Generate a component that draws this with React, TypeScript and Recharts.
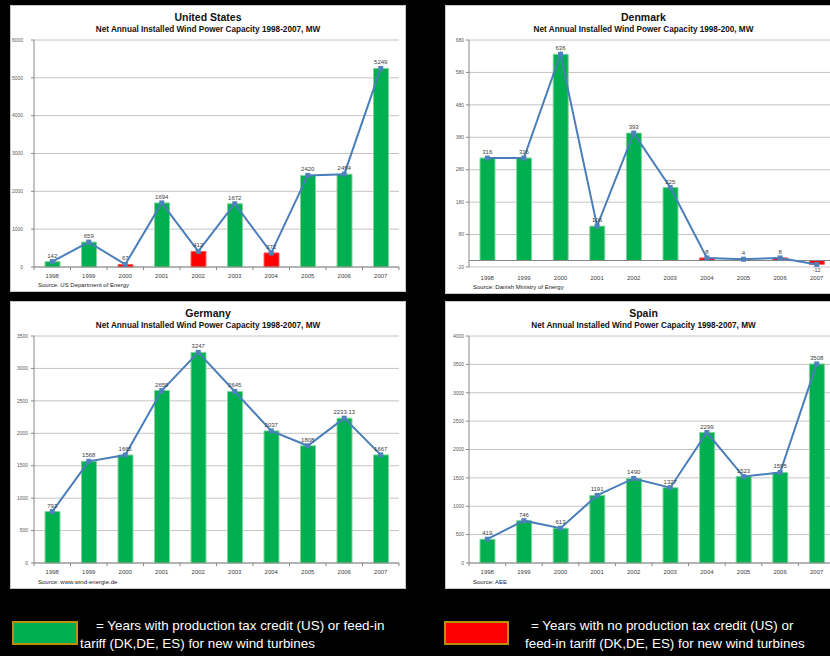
import {
  ComposedChart,
  Bar,
  Line,
  XAxis,
  YAxis,
  CartesianGrid,
  Cell,
  LabelList,
  ReferenceLine,
} from 'recharts'

// years on the category axis
const years = ['1998', '1999', '2000', '2001', '2002', '2003', '2004', '2005', '2006', '2007']

// United States
const usValues = [142, 659, 67, 1694, 412, 1672, 372, 2420, 2454, 5249]
const usCredit = [true, true, false, true, false, true, false, true, true, true]
const usTicks = [0, 1000, 2000, 3000, 4000, 5000, 6000]

// Denmark
const dkValues = [316, 316, 636, 106, 393, 225, 8, 4, 8, -12]
const dkCredit = [true, true, true, true, true, true, false, false, false, false]
const dkTicks = [-20, 80, 180, 280, 380, 480, 580, 680]

// Germany
const deValues = [793, 1568, 1665, 2659, 3247, 2645, 2037, 1808, 2233.13, 1667]
const deCredit = [true, true, true, true, true, true, true, true, true, true]
const deTicks = [0, 500, 1000, 1500, 2000, 2500, 3000, 3500]

// Spain
const esValues = [419, 746, 613, 1191, 1490, 1327, 2299, 1523, 1595, 3508]
const esCredit = [true, true, true, true, true, true, true, true, true, true]
const esTicks = [0, 500, 1000, 1500, 2000, 2500, 3000, 3500, 4000]

const GREEN = '#00B050'
const RED = '#FF0000'
const LINE = '#4A7EBB'
const FONT = '"Liberation Sans Narrow", "Arial Narrow", "Liberation Sans", sans-serif'

interface PanelProps {
  left: number
  top: number
  width: number
  height: number
  title: string
  subtitle: string
  source: string
  values: number[]
  credit: boolean[]
  ticks: number[]
  yGap: number
  zeroLine?: boolean
}

function Panel({ left, top, width, height, title, subtitle, source, values, credit, ticks, yGap, zeroLine }: PanelProps) {
  const data = years.map((year, i) => ({ year, value: values[i], credit: credit[i] }))
  const plotLeft = 23
  const plotRight = width - 8
  const plotTop = 34
  const plotBottom = 261
  const band = (plotRight - plotLeft) / years.length

  const renderTick = (props: any) => {
    const { x, y, payload, index } = props
    return (
      <g>
        {!zeroLine && <line x1={x - band / 2} x2={x - band / 2} y1={y} y2={y + 3} stroke="#888" />}
        {!zeroLine && index === years.length - 1 && (
          <line x1={x + band / 2} x2={x + band / 2} y1={y} y2={y + 3} stroke="#888" />
        )}
        <text x={x} y={y + (zeroLine ? 13 : 11)} textAnchor="middle" fontSize={6} fill="#404040" fontFamily={FONT}>
          {payload.value}
        </text>
      </g>
    )
  }

  const renderDot = (props: any) => (
    <rect key={`dot-${props.index}`} x={props.cx - 2.5} y={props.cy - 2.5} width={5} height={5} fill="#4F81BD" />
  )

  const renderLabel = (props: any) => {
    const { x, y, value } = props
    return (
      <text x={x} y={value < 0 ? y + 8 : y - 4} textAnchor="middle" fontSize={value < 0 ? 5.5 : 6} fill="#404040" fontFamily={FONT}>
        {value}
      </text>
    )
  }

  return (
    <div
      style={{
        position: 'absolute',
        left,
        top,
        width,
        height,
        background: '#fff',
        border: '1px solid #c8c8c8',
        boxSizing: 'border-box',
        fontFamily: FONT,
      }}
    >
      <div style={{ position: 'absolute', top: 5, width: '100%', textAlign: 'center', fontWeight: 700, fontSize: 10.5, color: '#111' }}>
        {title}
      </div>
      <div style={{ position: 'absolute', top: 19, width: '100%', textAlign: 'center', fontWeight: 700, fontSize: 8.2, color: '#111' }}>
        {subtitle}
      </div>
      <div style={{ position: 'absolute', left: 27, top: height - 11, fontSize: 6, color: '#222' }}>{source}</div>
      <div style={{ position: 'absolute', left: 0, top: 0 }}>
        <ComposedChart
          width={width}
          height={height}
          data={data}
          margin={{ top: plotTop, right: width - plotRight, left: 0, bottom: height - plotBottom - 14 }}
        >
          <CartesianGrid vertical={false} stroke="#c4c4c4" />
          <XAxis
            dataKey="year"
            height={14}
            tickLine={false}
            tickSize={0}
            tickMargin={0}
            axisLine={zeroLine ? false : { stroke: '#888' }}
            tick={renderTick}
            interval={0}
          />
          <YAxis
            width={plotLeft}
            domain={[ticks[0], ticks[ticks.length - 1]]}
            ticks={ticks}
            interval={0}
            axisLine={{ stroke: '#888' }}
            tickLine={{ stroke: '#888' }}
            tickSize={3}
            tickMargin={yGap - 3}
            tick={{ fontSize: 5, fill: '#595959', fontFamily: FONT }}
          />
          {zeroLine && <ReferenceLine y={0} stroke="#888" />}
          <Bar dataKey="value" barSize={15} isAnimationActive={false}>
            {data.map((d, i) => (
              <Cell key={i} fill={d.credit ? GREEN : RED} stroke={d.credit ? '#7ED69B' : '#FF6060'} strokeWidth={1} />
            ))}
          </Bar>
          <Line
            dataKey="value"
            stroke={LINE}
            strokeWidth={2}
            dot={renderDot}
            activeDot={false}
            isAnimationActive={false}
          >
            <LabelList dataKey="value" content={renderLabel} />
          </Line>
        </ComposedChart>
      </div>
    </div>
  )
}

export default function App() {
  const legendText = { position: 'absolute' as const, color: '#fff', fontSize: 13.4, fontFamily: FONT, whiteSpace: 'nowrap' as const }
  return (
    <div style={{ position: 'absolute', left: 0, top: 0, width: 830, height: 656, background: '#000', overflow: 'hidden' }}>
      <Panel
        left={10}
        top={5}
        width={396}
        height={287}
        title="United States"
        subtitle="Net Annual Installed Wind Power Capacity 1998-2007, MW"
        source="Source: US Department of Energy"
        values={usValues}
        credit={usCredit}
        ticks={usTicks}
        yGap={11}
      />
      <Panel
        left={445}
        top={5}
        width={397}
        height={289}
        title="Denmark"
        subtitle="Net Annual Installed Wind Power Capacity 1998-200, MW"
        source="Source: Danish Ministry of Energy"
        values={dkValues}
        credit={dkCredit}
        ticks={dkTicks}
        yGap={5}
        zeroLine
      />
      <Panel
        left={10}
        top={301}
        width={396}
        height={288}
        title="Germany"
        subtitle="Net Annual Installed Wind Power Capacity 1998-2007, MW"
        source="Source: www.wind-energie.de"
        values={deValues}
        credit={deCredit}
        ticks={deTicks}
        yGap={6}
      />
      <Panel
        left={445}
        top={301}
        width={397}
        height={288}
        title="Spain"
        subtitle="Net Annual Installed Wind Power Capacity 1998-2007, MW"
        source="Source: AEE"
        values={esValues}
        credit={esCredit}
        ticks={esTicks}
        yGap={5}
      />

      <div style={{ position: 'absolute', left: 12, top: 621, width: 62, height: 20, background: GREEN, border: '2px solid #B8900A' }} />
      <div style={{ ...legendText, left: 96, top: 618 }}>= Years with production tax credit (US) or feed-in</div>
      <div style={{ ...legendText, left: 80, top: 636 }}>tariff (DK,DE, ES) for new wind turbines</div>

      <div style={{ position: 'absolute', left: 444, top: 621, width: 61, height: 20, background: RED, border: '2px solid #B8900A' }} />
      <div style={{ ...legendText, left: 531, top: 618 }}>= Years with no production tax credit (US) or</div>
      <div style={{ ...legendText, left: 525, top: 636 }}>feed-in tariff (DK,DE, ES) for new wind turbines</div>
    </div>
  )
}
